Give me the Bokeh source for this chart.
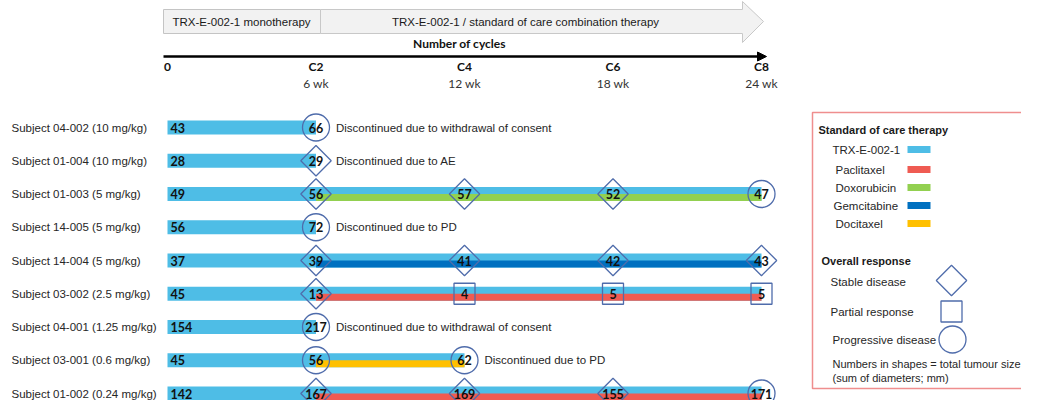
import numpy as np
from bokeh.plotting import figure
from bokeh.models import Range1d, ColumnDataSource, Arrow, NormalHead
from bokeh.core.properties import value
from bokeh.embed import file_html
from bokeh.resources import INLINE

# ---------------- data ----------------
subjects = ["Subject 04-002 (10 mg/kg)", "Subject 01-004 (10 mg/kg)", "Subject 01-003 (5 mg/kg)",
            "Subject 14-005 (5 mg/kg)", "Subject 14-004 (5 mg/kg)", "Subject 03-002 (2.5 mg/kg)",
            "Subject 04-001 (1.25 mg/kg)", "Subject 03-001 (0.6 mg/kg)", "Subject 01-002 (0.24 mg/kg)"]
baseline_size = [43, 28, 49, 56, 37, 45, 154, 45, 142]
combo_drug = ["", "", "Doxorubicin", "", "Gemcitabine", "Paclitaxel", "", "Docitaxel", "Paclitaxel"]
last_week = [6, 6, 24, 6, 24, 24, 6, 12, 24]
discontinued = ["Discontinued due to withdrawal of consent", "Discontinued due to AE", "",
                "Discontinued due to PD", "", "", "Discontinued due to withdrawal of consent",
                "Discontinued due to PD", ""]

visit_subject = [0, 1, 2, 2, 2, 2, 3, 4, 4, 4, 4, 5, 5, 5, 5, 6, 7, 7, 8, 8, 8, 8]
visit_week = [6, 6, 6, 12, 18, 24, 6, 6, 12, 18, 24, 6, 12, 18, 24, 6, 6, 12, 6, 12, 18, 24]
visit_size = [66, 29, 56, 57, 52, 47, 72, 39, 41, 42, 43, 13, 4, 5, 5, 217, 56, 62, 167, 169, 155, 171]
visit_response = ["PD", "SD", "SD", "SD", "SD", "PD", "PD", "SD", "SD", "SD", "SD",
                  "SD", "PR", "PR", "PR", "PD", "PD", "PD", "SD", "SD", "SD", "PD"]

cycle_labels = ["0", "C2", "C4", "C6", "C8"]
cycle_weeks = [0, 6, 12, 18, 24]
week_labels = ["", "6 wk", "12 wk", "18 wk", "24 wk"]

drug_names = ["TRX-E-002-1", "Paclitaxel", "Doxorubicin", "Gemcitabine", "Docitaxel"]
drug_colors = ["#4ebde6", "#ef5b52", "#92d050", "#0070c0", "#ffc000"]
response_names = ["Stable disease", "Partial response", "Progressive disease"]

# ---------------- layout helpers ----------------
W, H = 1021, 400
PX0, PXW = 167.0, 24.75      # canvas px of week 0, px per week
ROW0, ROWH = 127.0, 33.25    # canvas px of first row centre, px per row
def X(px): return (px - PX0) / PXW
def Y(py): return (py - ROW0) / ROWH
def Yh(py): return Y(py - 4)   # header / legend placement

ARIAL = value("Liberation Sans")
CALIBRI = value("Lato")
TXT = "#262626"
MK = "#4f6cab"
FS = "11.5px"
color_of = dict(zip(drug_names, drug_colors))

p = figure(width=W, height=H, x_range=Range1d(X(0), X(W)), y_range=Range1d(Y(H), Y(0)),
           toolbar_location=None, output_backend="svg", min_border=0)
p.axis.visible = False
p.grid.visible = False
p.outline_line_color = None
p.background_fill_color = "white"

# ---------------- header ----------------
p.quad(left=[X(163)], right=[X(320)], top=[Yh(13)], bottom=[Yh(37)],
       fill_color="#f2f2f2", line_color="#c4c4c4", line_width=1)
p.patch(x=[X(320), X(742), X(742), X(763), X(742), X(742), X(320)],
        y=[Yh(13), Yh(13), Yh(5), Yh(25), Yh(46), Yh(37), Yh(37)],
        fill_color="#f2f2f2", line_color="#c8c8c8", line_width=1)
p.text(x=[X(241), X(525)], y=[Yh(25), Yh(25)],
       text=["TRX-E-002-1 monotherapy", "TRX-E-002-1 / standard of care combination therapy"],
       text_font=ARIAL, text_font_size=FS, text_color="#1a1a1a",
       text_align="center", text_baseline="middle")
p.text(x=[X(459)], y=[Yh(47)], text=["Number of cycles"], text_font=CALIBRI,
       text_font_size="12px", text_font_style="bold", text_color="#111111",
       text_align="center", text_baseline="middle")
p.add_layout(Arrow(x_start=X(163), y_start=Yh(60), x_end=X(766), y_end=Yh(60),
                   line_width=2.5, line_color="black",
                   end=NormalHead(size=9, fill_color="black", line_color="black")))
p.text(x=cycle_weeks, y=[Yh(70)] * 5, text=cycle_labels, text_font=CALIBRI,
       text_font_size="12px", text_font_style="bold", text_color="#111111",
       text_align="center", text_baseline="middle")
p.text(x=cycle_weeks, y=[Yh(87)] * 5, text=week_labels, text_font=CALIBRI,
       text_font_size="12px", text_color="#333333",
       text_align="center", text_baseline="middle")

# ---------------- bars ----------------
rows = list(range(len(subjects)))
bar_h = 14 / ROWH
p.hbar(y=rows, left=[0] * len(rows), right=last_week, height=bar_h,
       fill_color=drug_colors[0], line_color=None)
cr = [i for i in rows if combo_drug[i]]
p.hbar(y=[i + bar_h / 4 for i in cr], left=[6] * len(cr), right=[last_week[i] for i in cr],
       height=bar_h / 2, fill_color=[color_of[combo_drug[i]] for i in cr], line_color=None)

# subject labels
p.text(x=[X(11)] * len(rows), y=rows, text=subjects, text_font=ARIAL, text_font_size=FS,
       text_color=TXT, text_align="left", text_baseline="middle")
# baseline numbers
p.text(x=[X(170)] * len(rows), y=rows, text=[str(v) for v in baseline_size], text_font=CALIBRI,
       text_font_size="12.5px", text_font_style="bold", text_color="#111111",
       text_align="left", text_baseline="middle")

# ---------------- response markers ----------------
src = ColumnDataSource(dict(x=visit_week, y=visit_subject, t=[str(v) for v in visit_size]))
def sel(code):
    idx = [k for k, r in enumerate(visit_response) if r == code]
    return dict(x=[visit_week[k] for k in idx], y=[visit_subject[k] for k in idx])
p.scatter(marker="square", angle=np.pi / 4, size=21.5, fill_color=None, line_color=MK,
          line_width=1.3, **sel("SD"))
p.scatter(marker="square", size=21, fill_color=None, line_color=MK, line_width=1.3, **sel("PR"))
p.scatter(marker="circle", size=27, fill_color=None, line_color=MK, line_width=1.3, **sel("PD"))
p.text(x="x", y="y", text="t", source=src, text_font=CALIBRI, text_font_size="12.5px",
       text_font_style="bold", text_color="#111111", text_align="center", text_baseline="middle")

# discontinuation notes
dr = [i for i in rows if discontinued[i]]
p.text(x=[last_week[i] + 20 / PXW for i in dr], y=dr, text=[discontinued[i] for i in dr],
       text_font=ARIAL, text_font_size=FS, text_color=TXT,
       text_align="left", text_baseline="middle")

# ---------------- legend ----------------
p.multi_line(xs=[[X(W + 20), X(812), X(812), X(W + 20)]],
             ys=[[Yh(116), Yh(116), Yh(392), Yh(392)]],
             line_color="#ef8e8e", line_width=1.5)
p.text(x=[X(818), X(821)], y=[Yh(133), Yh(264)], text=["Standard of care therapy", "Overall response"],
       text_font=ARIAL, text_font_size="11px", text_font_style="bold", text_color="#1a1a1a",
       text_align="left", text_baseline="middle")
leg_y = [Yh(v) for v in (153, 173, 191, 209, 227)]
p.text(x=[X(v) for v in (832, 835, 835, 833, 835)], y=leg_y, text=drug_names,
       text_font=ARIAL, text_font_size=FS, text_color=TXT,
       text_align="left", text_baseline="middle")
p.hbar(y=leg_y, left=[X(907)] * 5, right=[X(930)] * 5, height=7 / ROWH,
       fill_color=drug_colors, line_color=None)
resp_y = [Yh(v) for v in (285, 315, 343)]
p.text(x=[X(830), X(830), X(832)], y=resp_y, text=response_names,
       text_font=ARIAL, text_font_size=FS, text_color=TXT,
       text_align="left", text_baseline="middle")
p.scatter(x=[X(951)], y=[Yh(284)], marker="square", angle=np.pi / 4, size=21.5, fill_color=None,
          line_color=MK, line_width=1.3)
p.scatter(x=[X(951)], y=[Yh(315)], marker="square", size=21, fill_color=None,
          line_color=MK, line_width=1.3)
p.scatter(x=[X(952)], y=[Yh(343)], marker="circle", size=27, fill_color=None,
          line_color=MK, line_width=1.3)
p.text(x=[X(832), X(832)], y=[Yh(367), Yh(381)],
       text=["Numbers in shapes = total tumour size", "(sum of diameters; mm)"],
       text_font=ARIAL, text_font_size="11px", text_color=TXT,
       text_align="left", text_baseline="middle")

open("out.html", "w").write(file_html(p, INLINE))
